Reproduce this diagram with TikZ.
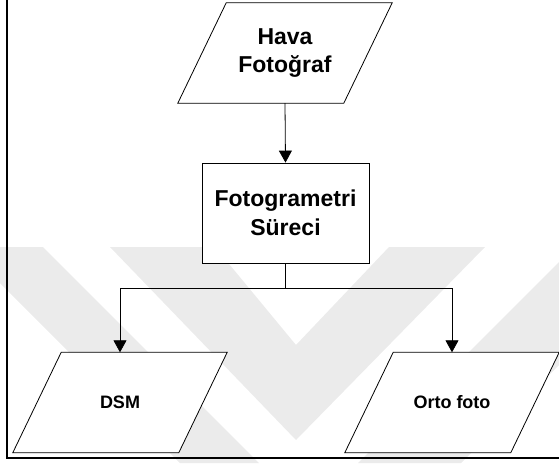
\documentclass[tikz,border=0pt]{standalone}
\usepackage{fontspec}
\setmainfont{Liberation Sans}
\usetikzlibrary{arrows.meta}
\begin{document}
\begin{tikzpicture}[x=1pt,y=-1pt,
  big/.style={font=\bfseries\fontsize{23}{28.5}\selectfont, align=center},
  small/.style={font=\bfseries\fontsize{18}{22}\selectfont, align=center},
  para/.style={rectangle, minimum width=214pt, minimum height=100pt, inner sep=0pt},
  procbox/.style={rectangle, draw, fill=white, line width=0.8pt, minimum width=167pt, minimum height=100pt, inner sep=0pt},
  conn/.style={line width=0.8pt, -{Triangle[width=13pt,length=12pt]}},
  wm/.style={fill=black!8}]
\useasboundingbox (0,0) rectangle (559,463);
% watermark
\fill[wm] (110,247) -- (296,440) -- (485,247) -- (389,247) -- (296,345) -- (215,247) -- cycle;
\fill[wm] (0,247) -- (43,247) -- (259,463) -- (180,463) -- (0,283) -- cycle;
\fill[wm] (559,262) -- (559,365) -- (461,463) -- (358,463) -- cycle;
% frame
\draw[line width=2pt] (7,0) -- (7,458) -- (559,458);
% nodes
\node[para] (hava) at (285,53) {};
\node[procbox] (proc) at (285.5,213) {};
\node[para] (dsm) at (120,402.5) {};
\node[para] (orto) at (452,402.5) {};
\foreach \n in {hava,dsm,orto}{
  \draw[line width=0.8pt, fill=white] (\n.south west) -- ++(166,0) -- (\n.north east) -- ++(-166,0) -- cycle;
}
\node[big] (havat) at (hava.center) {Hava\\Fotoğraf};
\node[big] (proct) at (proc.center) {Fotogrametri\\Süreci};
\node[small] (dsmt) at (dsm.center) {DSM};
\node[small] (ortot) at (orto.center) {Orto foto};
% connectors
\draw[conn] (hava.south) -- (proc.north);
\draw[line width=0.8pt] (proc.south) -- ++(0,25) coordinate (sp);
\draw[conn] (sp) -| (dsm.north);
\draw[conn] (sp) -| (orto.north);
\end{tikzpicture}
\end{document}
